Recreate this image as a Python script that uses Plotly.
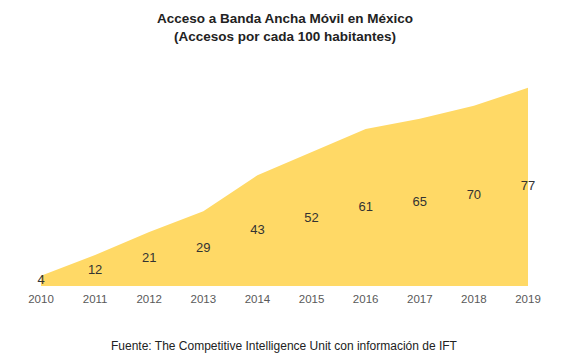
import plotly.graph_objects as go

years = [2010, 2011, 2012, 2013, 2014, 2015, 2016, 2017, 2018, 2019]
values = [4, 12, 21, 29, 43, 52, 61, 65, 70, 77]
labels = [str(v) for v in values]

W, H = 569, 363
OFF = 7  # page body offset
L, T = 40 - OFF, 79 - OFF
R = W - (527 - OFF)
B = H - (285 - OFF)
PH = H - T - B
PW = W - L - R


def px_x(x):
    return (x - OFF - L) / PW


def px_y(y):
    return ((H - B) - (y - OFF)) / PH


fig = go.Figure()
fig.add_trace(go.Scatter(
    x=years, y=values, mode="lines", fill="tozeroy",
    line=dict(width=0, color="#FFD966"), fillcolor="#FFD966",
    hoverinfo="skip", showlegend=False))
fig.add_trace(go.Scatter(
    x=years, y=[v / 2 for v in values], mode="text", text=labels,
    textposition="middle center", cliponaxis=False,
    textfont=dict(family="Liberation Sans, Arial", size=13, color="#333333"),
    showlegend=False, hoverinfo="skip"))

fig.update_layout(
    width=W, height=H,
    margin=dict(l=L, r=R, t=T, b=B, autoexpand=False),
    plot_bgcolor="white", paper_bgcolor="white",
    xaxis=dict(range=[2010, 2019], tickvals=years, ticktext=[str(y) for y in years],
               showgrid=False, zeroline=False, showline=False, ticks="",
               automargin=False,
               tickfont=dict(family="Liberation Sans, Arial", size=11.5, color="#595959"),
               ticklabelstandoff=4),
    yaxis=dict(range=[0, 80], visible=False, showgrid=False, zeroline=False, automargin=False),
    annotations=[
        dict(text="<b>Acceso a Banda Ancha Móvil en México</b><br><b>(Accesos por cada 100 habitantes)</b>",
             xref="paper", yref="paper",
             x=px_x(284), y=px_y(27),
             xanchor="center", yanchor="middle", showarrow=False,
             font=dict(family="Liberation Sans, Arial", size=13.5, color="#222222")),
        dict(text="Fuente: The Competitive Intelligence Unit con información de IFT",
             xref="paper", yref="paper",
             x=px_x(283), y=px_y(345),
             xanchor="center", yanchor="middle", showarrow=False,
             font=dict(family="Liberation Sans, Arial", size=12, color="#222222")),
    ],
)
fig.write_html("out.html")
